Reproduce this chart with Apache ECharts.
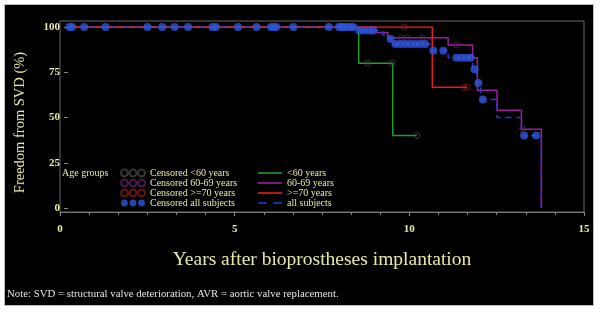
<!DOCTYPE html>
<html><head><meta charset="utf-8">
<script src="https://cdn.jsdelivr.net/npm/echarts@6/dist/echarts.min.js"></script>
<style>
html,body{margin:0;padding:0;background:#fff;width:600px;height:315px;overflow:hidden;}
#c{position:absolute;left:5px;top:5px;width:588px;height:300px;outline:1px solid #bbb;}
</style></head>
<body><div id="c"></div>
<script>
// ---- data ----
const xTicks = [0, 5, 10, 15];
const yTicks = [0, 25, 50, 75, 100];

const lt60Times = [0, 8.45, 9.44, 10.14];
const lt60Surv  = [100, 80, 40, 40];
const mid6069Times = [0, 8.95, 9.3, 11.05, 11.76, 11.9, 12.47, 13.18, 13.76];
const mid6069Surv  = [100, 97, 94, 90, 83, 65, 54, 43.5, 0];
const ge70Times = [0, 10.59, 11.6];
const ge70Surv  = [100, 66.7, 66.7];
const allTimes = [0, 8.45, 9.15, 9.3, 9.44, 10.59, 11.05, 11.76, 11.88, 12.0, 12.47, 13.18, 13.76];
const allSurv  = [100, 98, 95.6, 93.4, 90.6, 86.9, 83, 76.6, 69, 60, 50, 40, 0];

const censLt60Times = [8.71, 9.42, 10.14];
const censLt60Surv  = [80, 80, 40];
const cens6069Times = [9.68, 9.87, 10.29, 11.29, 13.22];
const cens6069Surv  = [94, 94, 94, 90, 43.5];
const censGe70Times = [9.77, 11.52, 11.6];
const censGe70Surv  = [100, 66.7, 66.7];
const censAllTimes = [0.04,0.12,0.47,1.09,2.31,2.74,3.10,3.49,4.20,4.30,4.94,5.48,5.90,5.98,6.05,6.55,7.58,7.88,7.95,8.02,8.10,8.22,8.29,
  8.47,8.61,8.76,8.87, 9.38, 9.52,9.67,9.81,9.96,10.10,10.24,10.38, 10.62,10.91, 11.29,11.44,11.58,11.70, 11.82, 11.93, 12.06, 13.26,13.61];
const censAllSurv = [100,100,100,100,100,100,100,100,100,100,100,100,100,100,100,100,100,100,100,100,100,100,100,
  98,98,98,98, 93.4, 90.6,90.6,90.6,90.6,90.6,90.6,90.6, 86.9,86.9, 83,83,83,83, 76.6, 69, 60, 40,40];

const zip = (a, b) => a.map((v, i) => [v, b[i]]);

const txt = '#e8e8a8';
const fontF = 'Liberation Serif';
const threeDots = 'path://M0,4a4,4 0 1,0 8,0a4,4 0 1,0 -8,0M10,4a4,4 0 1,0 8,0a4,4 0 1,0 -8,0M20,4a4,4 0 1,0 8,0a4,4 0 1,0 -8,0';
const solidIcon = 'path://M0,0h24v1.6h-24z';
const dashIcon = 'path://M0,0h8v1.6h-8zM14,0h8v1.6h-8z';

const chart = echarts.init(document.getElementById('c'), null, {renderer: 'canvas'});
chart.setOption({
  backgroundColor: '#000',
  animation: false,
  title: [
    {text: 'Age groups', left: 57, top: 163, padding: 0,
     textStyle: {color: txt, fontFamily: fontF, fontSize: 10, lineHeight: 10, fontWeight: 'normal'}},
    {text: 'Note: SVD = structural valve deterioration, AVR = aortic valve replacement.', left: 2, top: 284, padding: 0,
     textStyle: {color: '#e6e6e6', fontFamily: fontF, fontSize: 10.8, lineHeight: 11, fontWeight: 'normal'}}
  ],
  grid: [
    {left: 56, right: 9, top: 22, bottom: 97},
    {left: 55, right: 9, top: 16, bottom: 93, show: true, borderColor: '#666', borderWidth: 1, backgroundColor: 'transparent'}
  ],
  xAxis: [
    {gridIndex: 0, type: 'value', min: 0, max: 15, show: false},
    {gridIndex: 1, type: 'value', min: 0, max: 15, interval: 5,
     axisLine: {show: true, lineStyle: {color: '#777'}},
     axisTick: {show: true, length: 4, lineStyle: {color: '#888'}},
     minorTick: {show: true, splitNumber: 6, length: 3, lineStyle: {color: '#888'}},
     splitLine: {show: false},
     axisLabel: {color: txt, fontFamily: fontF, fontSize: 11, fontWeight: 'bold', margin: 12,
       formatter: v => xTicks.includes(v) ? String(v) : ''},
     name: 'Years after bioprostheses implantation', nameLocation: 'middle', nameGap: 38,
     nameTextStyle: {color: txt, fontFamily: fontF, fontSize: 19.5}}
  ],
  yAxis: [
    {gridIndex: 0, type: 'value', min: 0, max: 100, interval: 25,
     axisLine: {show: false},
     axisTick: {show: true, length: 4, lineStyle: {color: '#888'}},
     splitLine: {show: false},
     axisLabel: {color: txt, fontFamily: fontF, fontSize: 11, fontWeight: 'bold', margin: 8,
       formatter: v => yTicks.includes(v) ? String(v) : ''},
     name: 'Freedom from SVD (%)', nameLocation: 'middle', nameGap: 40,
     nameTextStyle: {color: txt, fontFamily: fontF, fontSize: 14.5, padding: [0, 10, 0, 0]}},
    {gridIndex: 1, type: 'value', min: 0, max: 1, show: false}
  ],
  legend: [
    {orient: 'vertical', left: 115, top: 163, padding: 0, itemWidth: 24, itemHeight: 8, itemGap: 0,
     icon: threeDots,
     textStyle: {color: txt, fontFamily: fontF, fontSize: 10, lineHeight: 10},
     data: ['Censored <60 years', 'Censored 60-69 years', 'Censored >=70 years', 'Censored all subjects']},
    {orient: 'vertical', left: 253, top: 163, padding: 0, itemWidth: 24, itemHeight: 8, itemGap: 0,
     textStyle: {color: txt, fontFamily: fontF, fontSize: 10, lineHeight: 10},
     data: [{name: '<60 years', icon: solidIcon}, {name: '60-69 years', icon: solidIcon},
            {name: '>=70 years', icon: solidIcon}, {name: 'all subjects', icon: dashIcon}]}
  ],
  series: [
    {name: '<60 years', type: 'line', step: 'end', data: zip(lt60Times, lt60Surv), showSymbol: false, symbol: 'none',
     lineStyle: {color: '#1e9a32', width: 1.5}, itemStyle: {color: '#1e9a32'}, z: 2},
    {name: '60-69 years', type: 'line', step: 'end', data: zip(mid6069Times, mid6069Surv), showSymbol: false, symbol: 'none',
     lineStyle: {color: '#a01ca0', width: 1.5}, itemStyle: {color: '#a01ca0'}, z: 3},
    {name: '>=70 years', type: 'line', step: 'end', data: zip(ge70Times, ge70Surv), showSymbol: false, symbol: 'none',
     lineStyle: {color: '#e81c1c', width: 1.5}, itemStyle: {color: '#e81c1c'}, z: 4},
    {name: 'all subjects', type: 'line', step: 'end', data: zip(allTimes, allSurv), showSymbol: false, symbol: 'none',
     lineStyle: {color: '#2a3ad0', width: 1.5, type: [6, 5]}, itemStyle: {color: '#2a3ad0'}, z: 5},
    {name: 'Censored <60 years', type: 'scatter', data: zip(censLt60Times, censLt60Surv), symbol: 'circle', symbolSize: 6,
     itemStyle: {color: 'rgba(0,0,0,0)', borderColor: '#444', borderWidth: 1}, z: 6},
    {name: 'Censored 60-69 years', type: 'scatter', data: zip(cens6069Times, cens6069Surv), symbol: 'circle', symbolSize: 6,
     itemStyle: {color: 'rgba(0,0,0,0)', borderColor: '#5a205a', borderWidth: 1}, z: 6},
    {name: 'Censored >=70 years', type: 'scatter', data: zip(censGe70Times, censGe70Surv), symbol: 'circle', symbolSize: 6,
     itemStyle: {color: 'rgba(0,0,0,0)', borderColor: '#801818', borderWidth: 1}, z: 6},
    {name: 'Censored all subjects', type: 'scatter', data: zip(censAllTimes, censAllSurv), symbol: 'circle', symbolSize: 8,
     itemStyle: {color: '#2f55d8'}, z: 7}
  ]
});
</script></body></html>
